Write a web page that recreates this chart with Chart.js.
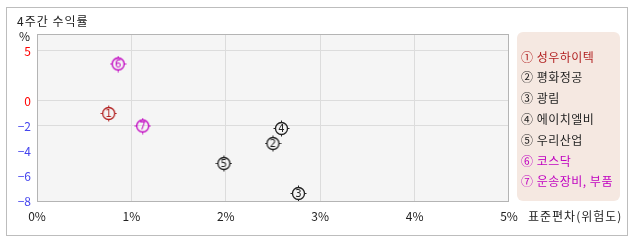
<!DOCTYPE html>
<html>
<head>
<meta charset="utf-8">
<script src="https://cdn.jsdelivr.net/npm/chart.js@4.4.0/dist/chart.umd.min.js"></script>
<style>
    body { margin: 0; background: #fff; }
    #wrap { position: relative; width: 638px; height: 242px; }
</style>
</head>
<body>
<div id="wrap"><canvas id="Chart1" width="638" height="242"></canvas></div>
<script>
var names = ['성우하이텍', '평화정공', '광림', '에이치엘비', '우리산업', '코스닥', '운송장비, 부품'];
var marks = ['①', '②', '③', '④', '⑤', '⑥', '⑦'];
var stdDev = [0.76, 2.50, 2.77, 2.59, 1.98, 0.86, 1.12];
var returns = [-1.0, -3.4, -7.4, -2.2, -5.0, 3.7, -2.0];
var itemColors = ['#b22222', '#222222', '#222222', '#222222', '#222222', '#c000c0', '#c000c0'];
var xTicks = [0, 1, 2, 3, 4, 5];
var yTicks = [5, 0, -2, -4, -6, -8];
var yGridAt = [5, 0, -2];

var FONT = '"Noto Sans CJK KR", "DejaVu Sans", sans-serif';

// y axis is drawn at 10px/unit above zero and 12.5px/unit below zero
class BrokenScale extends Chart.LinearScale {
    static id = 'broken';
    static defaults = Chart.LinearScale.defaults;
    toDec(v) {
        var k = 1.25;
        var low = (0 - this.min) * k;
        var total = low + this.max;
        if (v < 0) return (v - this.min) * k / total;
        return (low + v) / total;
    }
    getPixelForValue(v) {
        if (v === null || isNaN(v)) return NaN;
        return this.getPixelForDecimal(this.toDec(v));
    }
    getValueForPixel(p) {
        var d = this.getDecimalForPixel(p);
        var k = 1.25;
        var low = (0 - this.min) * k;
        var total = low + this.max;
        var t = d * total;
        if (t < low) return this.min + t / k;
        return t - low;
    }
}
Chart.register(BrokenScale);

function makeMarker(num, color) {
    var c = document.createElement('canvas');
    c.width = 17; c.height = 17;
    var g = c.getContext('2d');
    g.strokeStyle = color;
    g.fillStyle = color;
    g.lineWidth = 1.3;
    g.beginPath();
    g.arc(8.5, 8.5, 6, 0, Math.PI * 2);
    g.stroke();
    g.lineWidth = 1;
    g.beginPath();
    g.moveTo(8.5, 0.5); g.lineTo(8.5, 2.5);
    g.moveTo(8.5, 14.5); g.lineTo(8.5, 16.5);
    g.moveTo(0.5, 8.5); g.lineTo(2.5, 8.5);
    g.moveTo(14.5, 8.5); g.lineTo(16.5, 8.5);
    g.stroke();
    g.font = '10px "DejaVu Sans", sans-serif';
    g.textAlign = 'center';
    g.textBaseline = 'middle';
    g.fillText(String(num), 8.5, 9);
    return c;
}

var framePlugin = {
    id: 'frame',
    beforeDraw: function (chart) {
        var ctx = chart.ctx, a = chart.chartArea;
        ctx.save();
        ctx.fillStyle = '#ffffff';
        ctx.fillRect(0, 0, chart.width, chart.height);
        ctx.strokeStyle = '#bdbdbd';
        ctx.lineWidth = 1;
        ctx.strokeRect(6.5, 7.5, 621, 228);
        ctx.fillStyle = '#f5f5f5';
        ctx.fillRect(a.left, a.top, a.right - a.left, a.bottom - a.top);
        ctx.restore();
    },
    beforeDatasetsDraw: function (chart) {
        var ctx = chart.ctx, a = chart.chartArea;
        ctx.save();
        ctx.strokeStyle = '#b4b4b4';
        ctx.lineWidth = 1;
        ctx.strokeRect(a.left + 0.5, a.top + 0.5, a.right - a.left - 1, a.bottom - a.top);
        ctx.restore();
    },
    afterDraw: function (chart) {
        var ctx = chart.ctx;
        ctx.save();
        ctx.font = '12px ' + FONT;
        ctx.textBaseline = 'middle';
        ctx.fillStyle = '#222';
        ctx.letterSpacing = '1px';
        ctx.textAlign = 'left';
        ctx.fillText('4주간 수익률', 17, 21);
        ctx.textAlign = 'center';
        ctx.fillText('%', 25, 36);
        ctx.textAlign = 'left';
        ctx.fillText('표준편차(위험도)', 528, 216);

        // legend box
        var bx = 517, by = 32, bw = 103, bh = 169, r = 6;
        ctx.fillStyle = '#f5e8e1';
        ctx.beginPath();
        ctx.moveTo(bx + r, by);
        ctx.arcTo(bx + bw, by, bx + bw, by + bh, r);
        ctx.arcTo(bx + bw, by + bh, bx, by + bh, r);
        ctx.arcTo(bx, by + bh, bx, by, r);
        ctx.arcTo(bx, by, bx + bw, by, r);
        ctx.closePath();
        ctx.fill();
        ctx.letterSpacing = '0.5px';
        for (var i = 0; i < names.length; i++) {
            ctx.fillStyle = itemColors[i];
            ctx.fillText(marks[i] + ' ' + names[i], 521, 57 + i * 20.8);
        }
        ctx.restore();
    }
};

var datasets = names.map(function (n, i) {
    var m = makeMarker(i + 1, itemColors[i]);
    return {
        label: n,
        data: [{ x: stdDev[i], y: returns[i] }],
        pointStyle: m,
        pointRadius: 8,
        pointHoverRadius: 8,
        borderColor: itemColors[i],
        backgroundColor: itemColors[i]
    };
});

var Chart1 = new Chart(document.getElementById('Chart1'), {
    type: 'scatter',
    data: { datasets: datasets },
    options: {
        responsive: false,
        animation: false,
        layout: { padding: { left: 0, top: 34, right: 129, bottom: 0 } },
        plugins: { legend: { display: false }, tooltip: { enabled: false } },
        scales: {
            x: {
                type: 'linear',
                min: 0,
                max: 5,
                afterBuildTicks: function (s) { s.ticks = xTicks.map(function (v) { return { value: v }; }); },
                afterFit: function (s) { s.height = 41; },
                border: { display: false },
                grid: {
                    drawTicks: false,
                    color: function (c) { return (c.tick && c.tick.value > 0 && c.tick.value < 5) ? '#dcdcdc' : 'rgba(0,0,0,0)'; }
                },
                ticks: {
                    padding: 8,
                    maxRotation: 0,
                    color: '#222',
                    font: { family: FONT, size: 12 },
                    callback: function (v) { return v + '%'; }
                }
            },
            y: {
                type: 'broken',
                min: -8,
                max: 6.7,
                afterBuildTicks: function (s) { s.ticks = yTicks.map(function (v) { return { value: v }; }); },
                afterFit: function (s) { s.width = 37; },
                border: { display: false },
                grid: {
                    drawTicks: false,
                    color: function (c) { return (c.tick && yGridAt.indexOf(c.tick.value) >= 0) ? '#dcdcdc' : 'rgba(0,0,0,0)'; }
                },
                ticks: {
                    padding: 6,
                    color: function (c) { return c.tick.value >= 0 ? '#ff0000' : '#4444ee'; },
                    font: { family: FONT, size: 12 },
                    callback: function (v) { return String(v).replace('-', '−'); }
                }
            }
        }
    },
    plugins: [framePlugin]
});
</script>
</body>
</html>
